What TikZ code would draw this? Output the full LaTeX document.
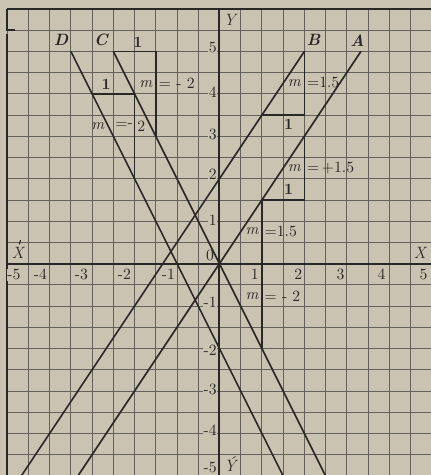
\documentclass[tikz,border=0pt]{standalone}
\definecolor{paper}{RGB}{203,195,177}
\definecolor{ink}{RGB}{42,40,38}
\definecolor{gridc}{RGB}{100,96,90}
\begin{document}
\begin{tikzpicture}[x=1cm,y=1cm,
  gridline/.style={gridc, line width=0.55pt},
  axisline/.style={ink, line width=1.3pt},
  graphline/.style={ink, line width=1.1pt},
  triline/.style={ink, line width=1.0pt},
  primetick/.style={ink, line width=0.8pt, line cap=round},
  txt/.style={text=ink, inner sep=0.5pt, font=\fontsize{10.5}{12}\selectfont},
  ticklab/.style={txt, fill=paper},
  letter/.style={text=ink, inner sep=0.5pt, font=\fontsize{11}{13}\selectfont\bfseries\itshape},
  axletter/.style={text=ink, inner sep=0.5pt, font=\fontsize{11}{13}\selectfont\itshape}]
% background and bounding box
\fill[paper] (-5.17,-4.98) rectangle (4.98,6.21);
\useasboundingbox (-5.17,-4.98) rectangle (4.98,6.21);
% grid
\draw[gridline, step=0.5cm] (-5,-5) grid (5,6);
% axes
\coordinate (xw) at (-5,0);
\coordinate (xe) at (5,0);
\coordinate (ys) at (0,-5);
\coordinate (yn) at (0,6);
\draw[axisline] (xw) -- (xe);
\draw[axisline] (ys) -- (yn);
% border
\coordinate (tl) at (-5,6);
\coordinate (tr) at (5,6);
\coordinate (bl) at (-5,-5);
\coordinate (lgap) at (-5,5.4);
\coordinate (brk1) at (-5,5.5);
\coordinate (brk2) at (-4.82,5.5);
\draw[axisline] (tl) -- (tr);
\draw[axisline] (bl) -- (lgap);
\draw[axisline] (tl) -- (brk1) -- (brk2);
% graph lines
\coordinate (A0) at (-3.3333,-5);
\coordinate (A1) at (3.3333,5);
\coordinate (B0) at (-4.6667,-5);
\coordinate (B1) at (2,5);
\coordinate (C0) at (-2.5,5);
\coordinate (C1) at (2.5,-5);
\coordinate (D0) at (-3.5,5);
\coordinate (D1) at (1.5,-5);
\draw[graphline] (A0) -- (A1);
\draw[graphline] (B0) -- (B1);
\draw[graphline] (C0) -- (C1);
\draw[graphline] (D0) -- (D1);
% slope triangles
\coordinate (Ch) at (-1.5,5);
\coordinate (Cv) at (-1.5,3);
\draw[triline] (C0) -- (Ch) -- (Cv);
\coordinate (Da) at (-3,4);
\coordinate (Dh) at (-2,4);
\coordinate (Dv) at (-2,2);
\draw[triline] (Da) -- (Dh) -- (Dv);
\coordinate (Ba) at (1,3.5);
\coordinate (Bh) at (2,3.5);
\draw[triline] (Ba) -- (Bh) -- (B1);
\coordinate (At) at (2,3);
\coordinate (Ah) at (2,1.5);
\coordinate (Aa) at (1,1.5);
\coordinate (Cb) at (1,-2);
\draw[triline] (At) -- (Ah) -- (Aa) -- (Cb);
% line letters
\node[letter] (labD) at (-3.73,5.26) {D};
\node[letter] (labC) at (-2.79,5.26) {C};
\node[letter] (labB) at (2.22,5.26) {B};
\node[letter] (labA) at (3.25,5.26) {A};
% axis letters
\node[axletter] (labY) at (0.24,5.73) {Y};
\node[axletter] (labYp) at (0.25,-4.72) {\'Y};
\node[axletter] (labXp) at (-4.75,0.26) {X};
\coordinate (tickXa) at ([xshift=1.0pt,yshift=1.2pt]labXp.north);
\coordinate (tickXb) at ([xshift=1.8pt,yshift=3.6pt]labXp.north);
\draw[primetick] (tickXa) -- (tickXb);
\node[axletter] (labX) at (4.72,0.26) {X};
\node[txt] (orig) at (-0.22,0.2) {0};
% x tick labels
\node[ticklab] (xm5) at (-4.84,-0.26) {-5};
\node[ticklab] (xm4) at (-4.22,-0.26) {-4};
\node[ticklab] (xm3) at (-3.25,-0.26) {-3};
\node[ticklab] (xm2) at (-2.24,-0.26) {-2};
\node[ticklab] (xm1) at (-1.2,-0.26) {-1};
\node[ticklab] (xp1) at (0.83,-0.26) {1};
\node[ticklab] (xp2) at (1.86,-0.26) {2};
\node[ticklab] (xp3) at (2.85,-0.26) {3};
\node[ticklab] (xp4) at (3.82,-0.26) {4};
\node[ticklab] (xp5) at (4.81,-0.26) {5};
% y tick labels
\node[ticklab, anchor=east] (yp5) at (-0.04,5.09) {5};
\node[ticklab, anchor=east] (yp4) at (-0.04,4.04) {4};
\node[ticklab, anchor=east] (yp3) at (-0.04,3.04) {3};
\node[ticklab, anchor=east] (yp2) at (-0.04,2.1) {2};
\node[ticklab, anchor=east] (yp1) at (-0.04,1.02) {1};
\node[ticklab, anchor=east] (ym1) at (-0.04,-0.9) {-1};
\node[ticklab, anchor=east] (ym2) at (-0.04,-2.05) {-2};
\node[ticklab, anchor=east] (ym3) at (-0.04,-2.97) {-3};
\node[ticklab, anchor=east] (ym4) at (-0.04,-3.92) {-4};
\node[ticklab, anchor=east] (ym5) at (-0.04,-4.8) {-5};
% run labels "1"
\node[txt, font=\fontsize{10.5}{12}\selectfont\bfseries] (oneC) at (-1.92,5.21) {1};
\node[txt, font=\fontsize{10.5}{12}\selectfont\bfseries] (oneD) at (-2.67,4.22) {1};
\node[txt, font=\fontsize{10.5}{12}\selectfont\bfseries] (oneB) at (1.63,3.27) {1};
\node[txt, font=\fontsize{10.5}{12}\selectfont\bfseries] (oneA) at (1.63,1.74) {1};
% slope labels
\node[txt, anchor=east] (mC) at (-1.55,4.24) {\textit{m}};
\node[txt, anchor=west] (eqC) at (-1.45,4.24) {= - 2};
\node[txt, anchor=east] (mD) at (-2.68,3.24) {\textit{m}};
\node[txt] (eqD) at (-2.31,3.24) {=};
\node[txt] (dashD) at (-2.1,3.24) {-};
\node[txt, anchor=west] (twoD) at (-1.96,3.24) {2};
\node[txt, anchor=east] (mB) at (1.95,4.26) {\textit{m}};
\node[txt, anchor=west] (eqB) at (2.04,4.26) {=1.5};
\node[txt, anchor=east] (mA) at (1.95,2.25) {\textit{m}};
\node[txt, anchor=west] (eqA) at (2.04,2.25) {=\,+1.5};
\node[txt, anchor=east] (mA2) at (0.95,0.76) {\textit{m}};
\node[txt, anchor=west] (eqA2) at (1.04,0.76) {=1.5};
\node[txt, anchor=east] (mC2) at (0.95,-0.76) {\textit{m}};
\node[txt, anchor=west] (eqC2) at (1.04,-0.76) {= - 2};
\end{tikzpicture}
\end{document}
